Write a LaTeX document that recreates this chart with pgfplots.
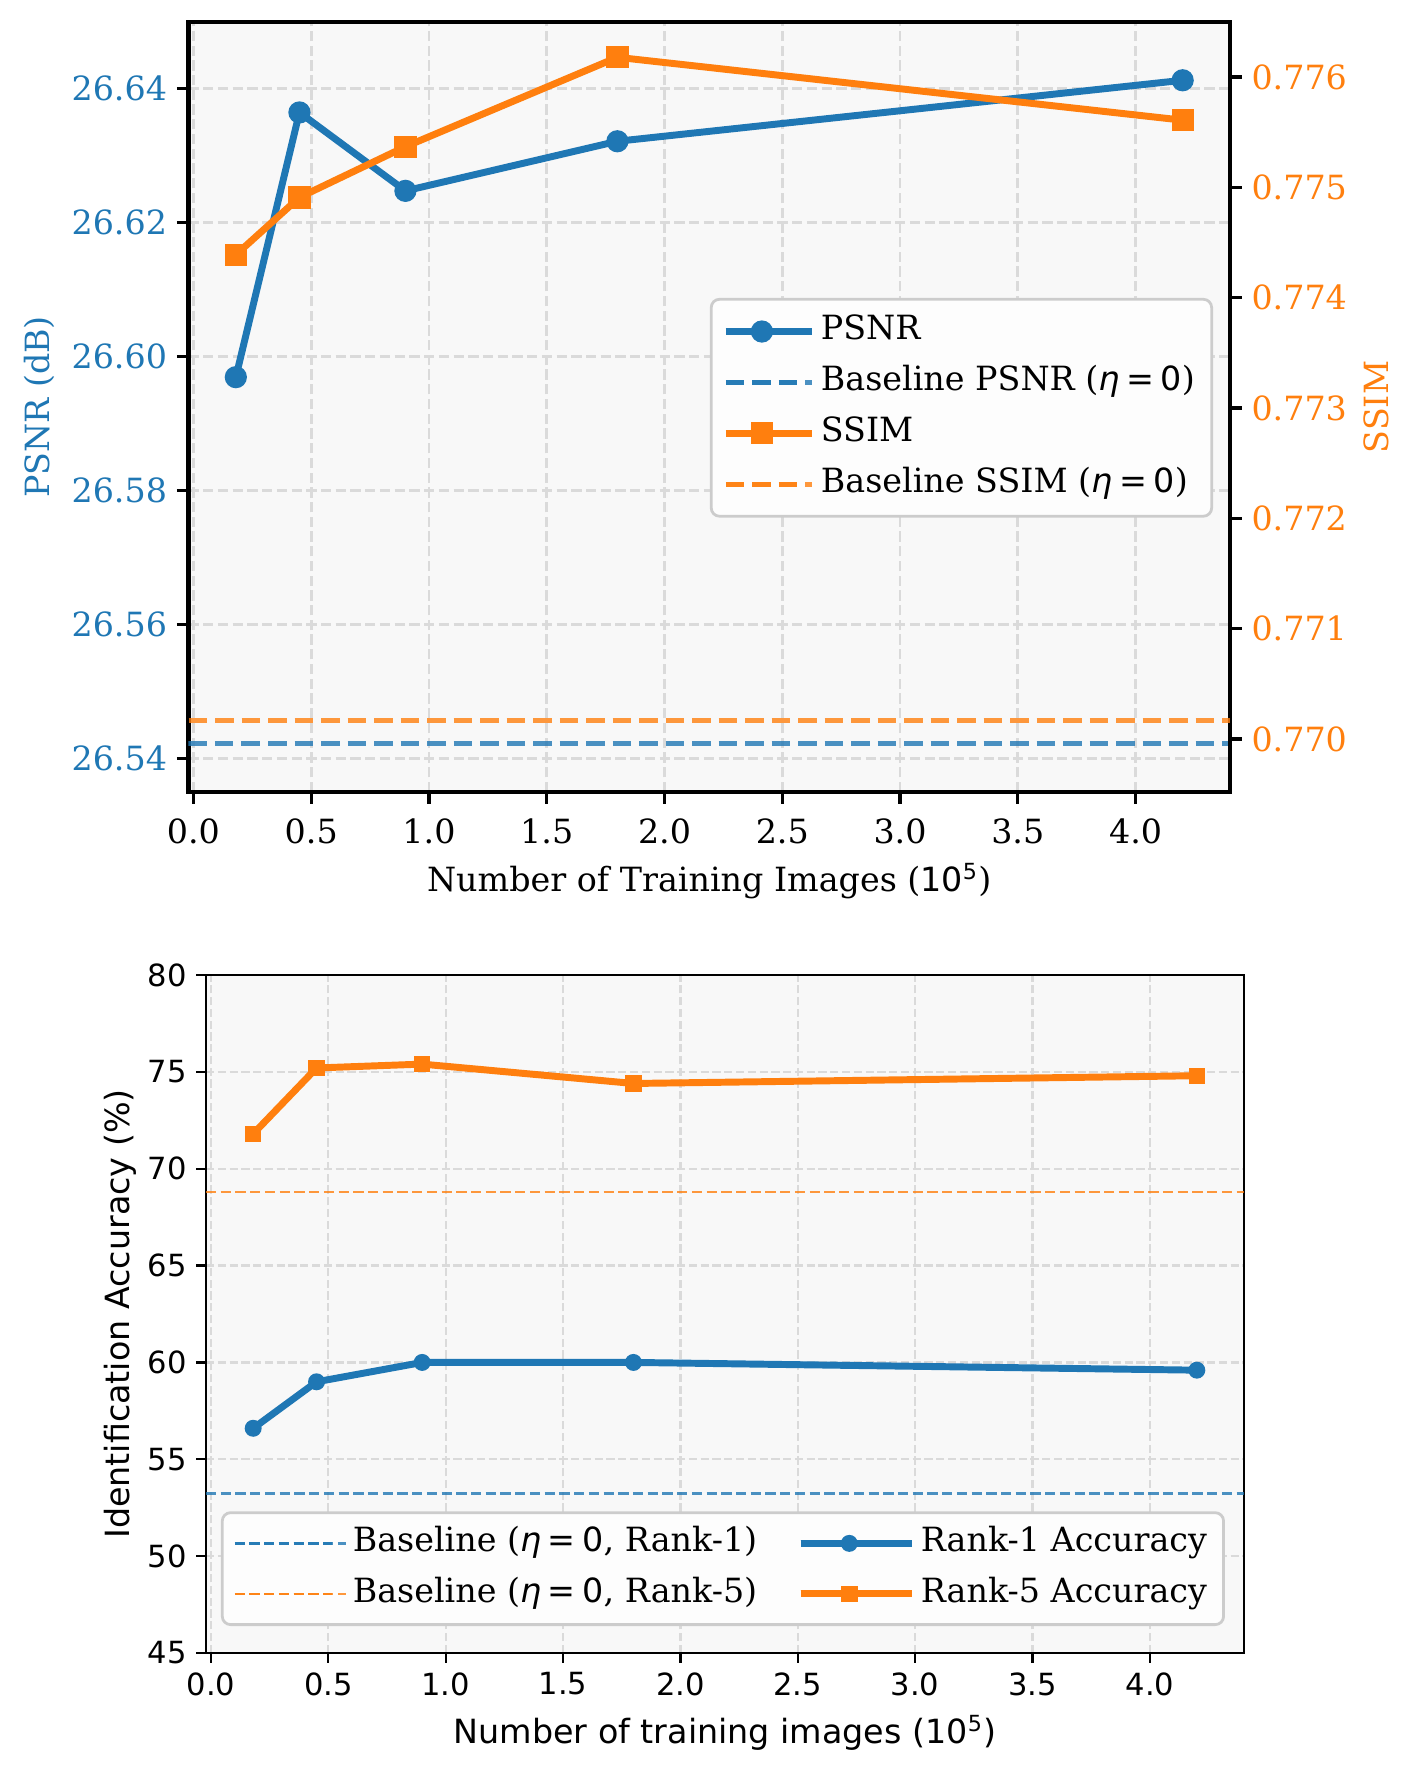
\documentclass[border=0pt]{standalone}
\usepackage{fontspec}
\setmainfont{DejaVu Serif}
\setsansfont{DejaVu Sans}
\usepackage{pgfplots}
\usepackage{pgfplotstable}
\pgfplotsset{compat=1.18}

\definecolor{cA}{HTML}{1F77B4}
\definecolor{cB}{HTML}{FF7F0E}
\definecolor{bgc}{HTML}{F8F8F8}
\definecolor{gridc}{HTML}{DADADA}
\definecolor{framec}{HTML}{CCCCCC}
\definecolor{legfill}{HTML}{FDFDFD}

\newcommand{\fs}[1]{\fontsize{#1}{#1}\selectfont}
\newcommand{\etaz}{{\sffamily\itshape η}\hspace{0.2em}{\sffamily =}\hspace{0.2em}{\sffamily 0}}

% training-set sizes (x 10^5)
\pgfplotstableread{
n     psnr     ssim
0.18  26.5969  0.77439
0.45  26.6364  0.77491
0.90  26.6247  0.77537
1.80  26.6321  0.77618
4.20  26.6412  0.77561
}\qualitytable

\pgfplotstableread{
n     rone  rfive
0.18  56.6  71.8
0.45  59.0  75.2
0.90  60.0  75.4
1.80  60.0  74.4
4.20  59.6  74.8
}\accuracytable

\begin{document}
\begin{tikzpicture}
\useasboundingbox (0,0) rectangle (510.84pt,636.84pt);

% ---------------- upper panel: PSNR (left) ----------------
\begin{axis}[
  at={(67.86pt,351.72pt)}, anchor=south west,
  scale only axis, width=374.94pt, height=277.2pt,
  xmin=-0.021, xmax=4.401, ymin=26.5350, ymax=26.6499,
  xtick={0,0.5,1,1.5,2,2.5,3,3.5,4},
  ytick={26.54,26.56,26.58,26.60,26.62,26.64},
  scaled ticks=false,
  xtick pos=bottom, ytick pos=left,
  tick align=outside, major tick length=4.2pt,
  every tick/.style={black, line width=1.2pt},
  axis line style={line width=1.5pt},
  axis background/.style={fill=bgc},
  grid=major,
  major grid style={gridc, line width=1pt, dash pattern=on 3.7pt off 1.6pt},
  /pgf/number format/assume math mode=true,
  xticklabel style={font=\fs{12}, yshift=-1.8pt, /pgf/number format/fixed, /pgf/number format/fixed zerofill, /pgf/number format/precision=1},
  yticklabel style={font=\fs{12}, text=cA, /pgf/number format/fixed, /pgf/number format/fixed zerofill, /pgf/number format/precision=2},
  xlabel={Number of Training Images ({\sffamily 10\textsuperscript{5}})},
  xlabel style={font=\fs{12}, at={([yshift=-36pt]axis description cs:0.5,0)}, anchor=base},
  ylabel={PSNR (dB)},
  ylabel style={font=\fs{12}, text=cA, at={([xshift=-49.9pt]axis description cs:0,0.5)}, anchor=base},
]
\addplot[cA, draw opacity=0.8, line width=1.8pt, dash pattern=on 6.66pt off 2.88pt]
  coordinates {(-0.021,26.5422) (4.401,26.5422)};
\addplot[cA, line width=2.5pt, mark=*, mark size=3.75pt, mark options={line width=0.5pt, solid}]
  table[x=n, y=psnr] {\qualitytable};
\end{axis}

% ---------------- upper panel: SSIM (right) ----------------
\begin{axis}[
  at={(67.86pt,351.72pt)}, anchor=south west,
  scale only axis, width=374.94pt, height=277.2pt,
  xmin=-0.021, xmax=4.401, ymin=0.769521, ymax=0.7765,
  hide x axis, axis y line*=right,
  ytick={0.770,0.771,0.772,0.773,0.774,0.775,0.776},
  scaled ticks=false,
  tick align=outside, major tick length=4.2pt,
  every tick/.style={black, line width=1.2pt},
  axis line style={line width=1.5pt},
  /pgf/number format/assume math mode=true,
  yticklabel style={font=\fs{12}, text=cB, /pgf/number format/fixed, /pgf/number format/fixed zerofill, /pgf/number format/precision=3},
  ylabel={SSIM},
  ylabel style={font=\fs{12}, text=cB, at={([xshift=57.2pt]axis description cs:1,0.5)}, anchor=base},
  legend image code/.code={
    \draw[sharp corners, mark repeat=2, mark phase=2, #1] plot coordinates {(0pt,0pt) (13pt,0pt) (26pt,0pt)};
    \path (0pt,0pt) -- (31pt,0pt);
  },
  legend cell align=left,
  legend style={at={(axis description cs:0.9837,0.499)}, anchor=east,
    fill=legfill, draw=framec, line width=1pt, rounded corners=3pt,
    font=\fs{12}, inner xsep=4pt, inner ysep=3.6pt, row sep=2.3pt,
    nodes={inner sep=2pt, text height=9pt, text depth=3pt}},
]
\addlegendimage{cA, line width=2.5pt, mark=*, mark size=3.75pt, mark options={line width=0.5pt, solid}}
\addlegendentry{PSNR}
\addlegendimage{cA, draw opacity=0.8, line width=1.8pt, dash pattern=on 6.66pt off 2.88pt}
\addlegendentry{Baseline PSNR (\etaz)}
\addplot[cB, line width=2.5pt, mark=square*, mark size=3.75pt, mark options={line width=0.5pt, solid}]
  table[x=n, y=ssim] {\qualitytable};
\addlegendentry{SSIM}
\addplot[cB, draw opacity=0.8, line width=1.8pt, dash pattern=on 6.66pt off 2.88pt]
  coordinates {(-0.021,0.77017) (4.401,0.77017)};
\addlegendentry{Baseline SSIM (\etaz)}
\end{axis}

% ---------------- lower panel: identification accuracy ----------------
\begin{axis}[
  at={(74.16pt,41.76pt)}, anchor=south west,
  scale only axis, width=373.68pt, height=244.08pt,
  xmin=-0.021, xmax=4.401, ymin=45, ymax=80,
  xtick={0,0.5,1,1.5,2,2.5,3,3.5,4},
  ytick={45,50,55,60,65,70,75,80},
  scaled ticks=false,
  xtick pos=bottom, ytick pos=left,
  tick align=outside, major tick length=3.5pt,
  every tick/.style={black, line width=0.8pt},
  axis line style={line width=0.8pt},
  axis background/.style={fill=bgc},
  grid=major,
  major grid style={gridc, line width=0.8pt, dash pattern=on 2.96pt off 1.28pt},
  /pgf/number format/assume math mode=true,
  xticklabel style={font=\sffamily\fs{11}, /pgf/number format/fixed, /pgf/number format/fixed zerofill, /pgf/number format/precision=1},
  yticklabel style={font=\sffamily\fs{11}},
  xlabel={Number of training images (10\textsuperscript{5})},
  xlabel style={font=\sffamily\fs{12}, at={([yshift=-32.5pt]axis description cs:0.5,0)}, anchor=base},
  ylabel={Identification Accuracy (\%)},
  ylabel style={font=\sffamily\fs{12}, at={([xshift=-27.7pt]axis description cs:0,0.5)}, anchor=base},
  legend image code/.code={
    \draw[sharp corners, mark repeat=2, mark phase=2, #1] plot coordinates {(0pt,0pt) (17.5pt,0pt) (35pt,0pt)};
    \path (0pt,0pt) -- (40pt,0pt);
  },
  legend columns=2,
  legend cell align=left,
  legend style={at={(axis description cs:0.498,0.0398)}, anchor=south,
    fill=legfill, draw=framec, line width=1pt, rounded corners=3pt,
    font=\fs{12}, inner xsep=4pt, inner ysep=3.05pt, row sep=2.2pt,
    nodes={inner sep=2pt, text height=9pt, text depth=3pt},
    /tikz/every even column/.append style={column sep=12.4pt}},
]
\addplot[cA, draw opacity=0.8, line width=1pt, dash pattern=on 3.7pt off 1.6pt]
  coordinates {(-0.021,53.25) (4.401,53.25)};
\addlegendentry{Baseline (\etaz, Rank-1)}
\addplot[cA, line width=2.5pt, mark=*, mark size=2.8pt, mark options={line width=0.5pt, solid}]
  table[x=n, y=rone] {\accuracytable};
\addlegendentry{Rank-1 Accuracy}
\addplot[cB, draw opacity=0.8, line width=1pt, dash pattern=on 3.7pt off 1.6pt]
  coordinates {(-0.021,68.8) (4.401,68.8)};
\addlegendentry{Baseline (\etaz, Rank-5)}
\addplot[cB, line width=2.5pt, mark=square*, mark size=2.7pt, mark options={line width=0.5pt, solid}]
  table[x=n, y=rfive] {\accuracytable};
\addlegendentry{Rank-5 Accuracy}
\end{axis}
\end{tikzpicture}
\end{document}
